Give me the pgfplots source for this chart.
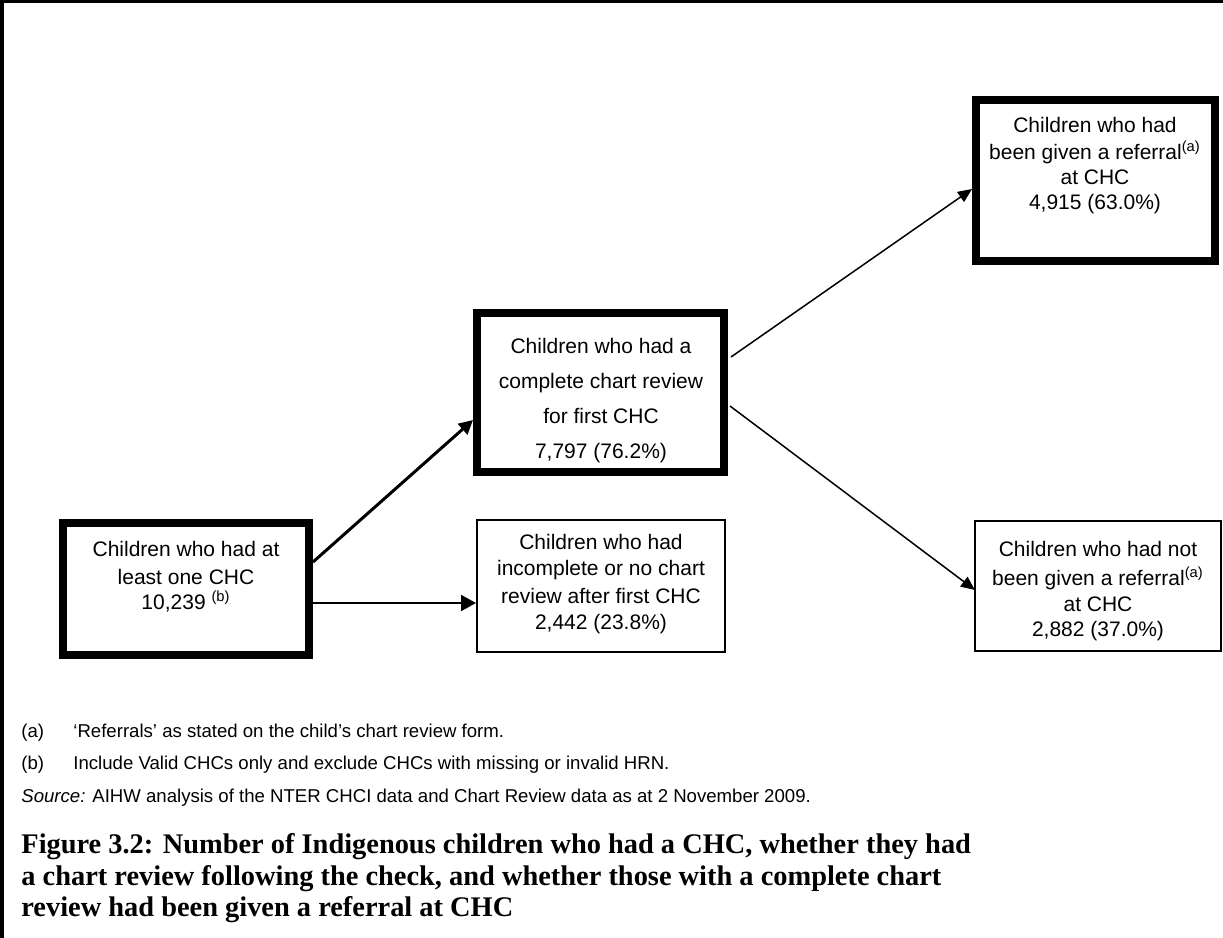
\documentclass[border=0pt]{standalone}
\usepackage{pgfplots}
\pgfplotsset{compat=1.18}
\usepackage{fontspec}
\setmainfont{Liberation Sans}
\newfontfamily\capfont{Liberation Serif}
\usetikzlibrary{arrows.meta}

% 1 unit = 1 px of the reference (0.5pt)
\newcommand{\boxfont}{\fontsize{10.5}{12}\selectfont}
\newcommand{\notefont}{\fontsize{9.3}{11}\selectfont}

\begin{document}
\begin{tikzpicture}
\begin{axis}[
  width=611.5pt, height=469pt, scale only axis,
  xmin=0, xmax=1223, ymin=0, ymax=938, y dir=reverse,
  hide axis, clip=false,
  every axis plot/.append style={black, no markers, line join=miter},
]
% frame (top and left edges)
\addplot[line width=1.75pt] coordinates {(1223,1.5) (2,1.5) (2,938)};

% boxes: thick = first level, thin = second level
\addplot[line width=4pt] coordinates {(63,523) (309,523) (309,655) (63,655)} -- cycle;   % A
\addplot[line width=4pt] coordinates {(477,313) (724,313) (724,472) (477,472)} -- cycle; % B
\addplot[line width=1pt] coordinates {(477,520) (725,520) (725,652) (477,652)} -- cycle; % C
\addplot[line width=4pt] coordinates {(976,100) (1215,100) (1215,261) (976,261)} -- cycle; % D
\addplot[line width=1pt] coordinates {(975,521) (1221,521) (1221,651) (975,651)} -- cycle; % E

% arrows
\addplot[line width=1.5pt, -{Triangle[length=7pt,width=7pt]}] coordinates {(313,562) (473,420)};
\addplot[line width=1pt, -{Triangle[length=7.5pt,width=8pt]}] coordinates {(313,603) (476,603)};
\addplot[line width=0.75pt, -{Triangle[length=7pt,width=6pt]}] coordinates {(731,357) (972,189)};
\addplot[line width=0.75pt, -{Triangle[length=7pt,width=6pt]}] coordinates {(730,406) (975,590)};

% box texts
\begin{scope}[every node/.style={anchor=base, inner sep=0pt, font=\boxfont}]
\node at (axis cs:186,556) {Children who had at};
\node at (axis cs:186,584) {least one CHC};
\node at (axis cs:186,609) {10,239 \textsuperscript{(b)}};

\node at (axis cs:601,353) {Children who had a};
\node at (axis cs:601,388) {complete chart review};
\node at (axis cs:601,423) {for first CHC};
\node at (axis cs:601,458) {7,797 (76.2\%)};

\node at (axis cs:601,549) {Children who had};
\node at (axis cs:601,575) {incomplete or no chart};
\node at (axis cs:601,603) {review after first CHC};
\node at (axis cs:601,629) {2,442 (23.8\%)};

\node at (axis cs:1095,132) {Children who had};
\node at (axis cs:1095,159) {been given a referral\textsuperscript{(a)}};
\node at (axis cs:1095,184) {at CHC};
\node at (axis cs:1095,209) {4,915 (63.0\%)};

\node at (axis cs:1098,556) {Children who had not};
\node at (axis cs:1098,585) {been given a referral\textsuperscript{(a)}};
\node at (axis cs:1098,611) {at CHC};
\node at (axis cs:1098,636) {2,882 (37.0\%)};
\end{scope}

% notes
\begin{scope}[every node/.style={anchor=base west, inner sep=0pt, font=\notefont}]
\node at (axis cs:21,737) {(a)};
\node at (axis cs:73,737) {‘Referrals’ as stated on the child’s chart review form.};
\node at (axis cs:21,769) {(b)};
\node at (axis cs:73,769) {Include Valid CHCs only and exclude CHCs with missing or invalid HRN.};
\node at (axis cs:21,802) {\textit{Source:} AIHW analysis of the NTER CHCI data and Chart Review data as at 2 November 2009.};
\end{scope}

% caption
\begin{scope}[every node/.style={anchor=base west, inner sep=0pt, font=\capfont\bfseries\fontsize{14.2}{16}\selectfont}]
\node at (axis cs:21,853) {Figure 3.2: Number of Indigenous children who had a CHC, whether they had};
\node at (axis cs:21,885) {a chart review following the check, and whether those with a complete chart};
\node at (axis cs:21,916) {review had been given a referral at CHC};
\end{scope}
\end{axis}
\pgfresetboundingbox
\path (current axis.south west) rectangle (current axis.north east);
\end{tikzpicture}
\end{document}
